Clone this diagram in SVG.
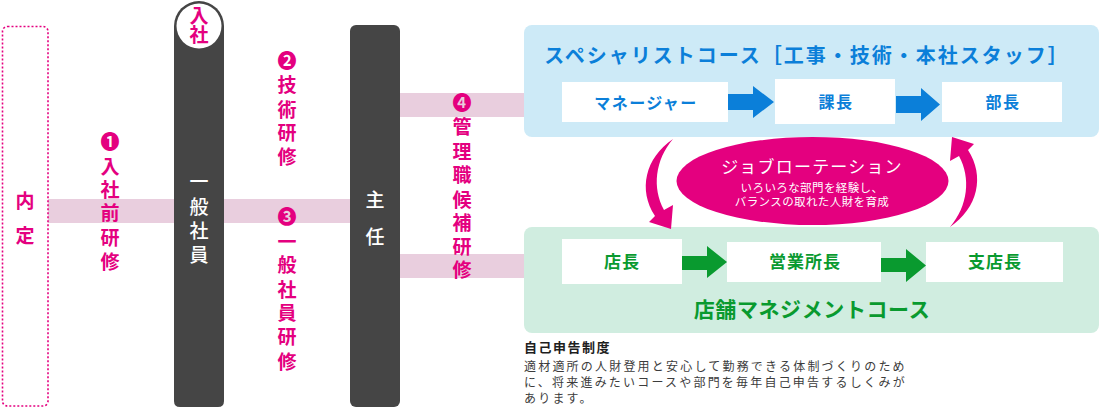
<svg xmlns="http://www.w3.org/2000/svg" width="1100" height="408" viewBox="0 0 1100 408">
<style>
text{font-family:"Noto Sans CJK JP","Noto Sans CJK SC",sans-serif}
.pk{fill:#e4007f;font-weight:700;font-size:19px;text-anchor:middle}
.wh{fill:#ffffff;font-weight:500;font-size:19px;text-anchor:middle}
.band{fill:#e9cede}
.pillar{fill:#454545}
.bl{fill:#0b7fd9;font-weight:700;text-anchor:middle}
.gr{fill:#099a2f;font-weight:700;text-anchor:middle}
.wbox{fill:#ffffff}
.note{fill:#3c3c3c;font-size:12px;letter-spacing:2.2px}
</style>

<g id="connectors">
<rect class="band" x="48" y="199" width="302" height="24"/>
<rect class="band" x="400" y="93" width="126" height="24"/>
<rect class="band" x="400" y="254" width="126" height="24"/>
</g>

<g id="naitei">
<rect x="2.5" y="26.5" width="45.5" height="379.5" rx="5" fill="none" stroke="#e4007f" stroke-width="1.6" stroke-dasharray="2 2"/>
<text class="pk" font-size="18"><tspan x="25" y="208">内</tspan><tspan x="25" y="243">定</tspan></text>
</g>

<g id="ippan-shain">
<path class="pillar" d="M174,26 A25,25 0 0 1 224,26 L224,401 Q224,407 218,407 L180,407 Q174,407 174,401 Z"/>
<circle cx="199" cy="26" r="22.5" fill="#ffffff"/>
<text class="pk" font-size="12"><tspan x="199" y="23">入</tspan><tspan x="199" y="41.5">社</tspan></text>
<text class="wh"><tspan x="199" y="189">一</tspan><tspan x="199" y="214">般</tspan><tspan x="199" y="238">社</tspan><tspan x="199" y="262">員</tspan></text>
</g>

<g id="shunin">
<rect class="pillar" x="350" y="25" width="50" height="382" rx="6"/>
<text class="wh"><tspan x="375" y="207">主</tspan><tspan x="375" y="244">任</tspan></text>
</g>

<g id="label-1">
<text class="pk"><tspan x="110" y="149">❶</tspan><tspan x="110" y="174">入</tspan><tspan x="110" y="197">社</tspan><tspan x="110" y="220">前</tspan><tspan x="110" y="245">研</tspan><tspan x="110" y="269">修</tspan></text>
</g>
<g id="label-2">
<text class="pk"><tspan x="287" y="68">❷</tspan><tspan x="287" y="92">技</tspan><tspan x="287" y="117">術</tspan><tspan x="287" y="140">研</tspan><tspan x="287" y="164">修</tspan></text>
</g>
<g id="label-3">
<text class="pk"><tspan x="287" y="224">❸</tspan><tspan x="287" y="249">一</tspan><tspan x="287" y="272">般</tspan><tspan x="287" y="297">社</tspan><tspan x="287" y="320">員</tspan><tspan x="287" y="344">研</tspan><tspan x="287" y="369">修</tspan></text>
</g>
<g id="label-4">
<text class="pk"><tspan x="462" y="110">❹</tspan><tspan x="462" y="134">管</tspan><tspan x="462" y="159">理</tspan><tspan x="462" y="182">職</tspan><tspan x="462" y="207">候</tspan><tspan x="462" y="230">補</tspan><tspan x="462" y="254">研</tspan><tspan x="462" y="277">修</tspan></text>
</g>

<g id="specialist-course">
<rect x="524" y="25" width="575" height="112" rx="8" fill="#cdeaf7"/>
<text class="bl" x="807" y="63" font-size="20" letter-spacing="2">スペシャリストコース［工事・技術・本社スタッフ］</text>
<rect class="wbox" x="562" y="82" width="166" height="40"/>
<text class="bl" x="646" y="109" font-size="16" letter-spacing="1.4">マネージャー</text>
<path fill="#0b7fd9" d="M728,94 L753,94 L753,86 L774,102 L753,118 L753,110 L728,110 Z"/>
<rect class="wbox" x="775" y="79" width="120" height="45"/>
<text class="bl" x="836" y="108" font-size="16" letter-spacing="1.4">課長</text>
<path fill="#0b7fd9" d="M896,96 L921,96 L921,88 L940,104.5 L921,121 L921,113 L896,113 Z"/>
<rect class="wbox" x="942" y="82" width="120" height="40"/>
<text class="bl" x="1003" y="108" font-size="16" letter-spacing="1.4">部長</text>
</g>

<g id="store-course">
<rect x="524" y="227" width="575" height="106" rx="8" fill="#d0ede0"/>
<rect class="wbox" x="562" y="239" width="120" height="45"/>
<text class="gr" x="622" y="268" font-size="17" letter-spacing="1">店長</text>
<path fill="#099a2f" d="M682,256 L707,256 L707,246 L727,262 L707,278 L707,270 L682,270 Z"/>
<rect class="wbox" x="727" y="242" width="154" height="40"/>
<text class="gr" x="805" y="268" font-size="17" letter-spacing="1">営業所長</text>
<path fill="#099a2f" d="M881,258 L906,258 L906,249 L926,265.5 L906,282 L906,272 L881,272 Z"/>
<rect class="wbox" x="926" y="242" width="137" height="40"/>
<text class="gr" x="995" y="268" font-size="17" letter-spacing="1">支店長</text>
<text class="gr" x="812" y="317" font-size="21" letter-spacing="0.6">店舗マネジメントコース</text>
</g>

<g id="job-rotation">
<path fill="#e4007f" d="M673,139 C645,158 638,190 655,216 L649,222 L671,229 L673,205 L664,210 C652,188 655,160 673,139 Z"/>
<path fill="#e4007f" transform="rotate(180 811.5 183)" d="M673,139 C645,158 638,190 655,216 L649,222 L671,229 L673,205 L664,210 C652,188 655,160 673,139 Z"/>
<ellipse cx="812.5" cy="181" rx="136" ry="44" fill="#e4007f"/>
<text x="812" y="173" fill="#ffffff" font-size="17" letter-spacing="1.2" text-anchor="middle">ジョブローテーション</text>
<text x="812" y="192" fill="#ffffff" font-size="11.5" letter-spacing="0.4" text-anchor="middle">いろいろな部門を経験し、</text>
<text x="812" y="206" fill="#ffffff" font-size="11.5" letter-spacing="0.4" text-anchor="middle">バランスの取れた人財を育成</text>
</g>

<g id="self-report">
<text x="524" y="352" fill="#1e1e1e" font-size="13" font-weight="700" letter-spacing="1.5">自己申告制度</text>
<text class="note" x="524" y="370.5">適材適所の人財登用と安心して勤務できる体制づくりのため</text>
<text class="note" x="524" y="386.5">に、将来進みたいコースや部門を毎年自己申告するしくみが</text>
<text class="note" x="524" y="402.5">あります。</text>
</g>
</svg>
